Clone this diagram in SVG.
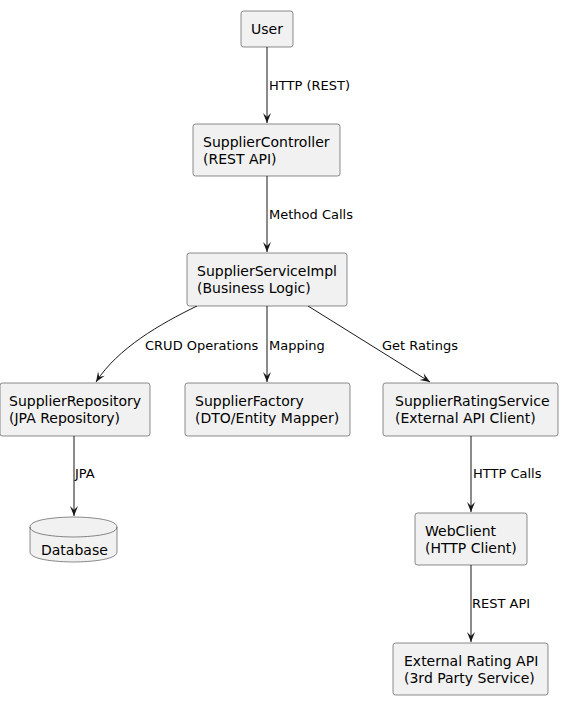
<svg xmlns="http://www.w3.org/2000/svg" width="576" height="709" viewBox="0 0 576 709">
<style>
.box{fill:#F1F1F1;stroke:#181818;stroke-width:0.5}
.t{font-family:"DejaVu Sans",sans-serif;font-size:14px;fill:#000}
.l{font-family:"DejaVu Sans",sans-serif;font-size:13px;fill:#000}
.e{fill:none;stroke:#181818;stroke-width:1}
</style>
<defs>
<marker id="ah" markerUnits="userSpaceOnUse" markerWidth="12" markerHeight="10" refX="10" refY="4" orient="auto" overflow="visible">
<path d="M0,0 L10,4 L0,8 L4,4 Z" fill="#181818"/>
</marker>
</defs>
<rect width="576" height="709" fill="#FFFFFF"/>
<g id="connectors">
<path class="e" d="M267,47 L267,123" marker-end="url(#ah)"/>
<text class="l" x="269" y="90">HTTP (REST)</text>
<path class="e" d="M267,176 L267,252" marker-end="url(#ah)"/>
<text class="l" x="269" y="219">Method Calls</text>
<path class="e" d="M197,306 C160,324 118,348 96,382" marker-end="url(#ah)"/>
<text class="l" x="145" y="350">CRUD Operations</text>
<path class="e" d="M267,306 L267,382" marker-end="url(#ah)"/>
<text class="l" x="269" y="350">Mapping</text>
<path class="e" d="M308,306 L430,382" marker-end="url(#ah)"/>
<text class="l" x="382" y="350">Get Ratings</text>
<path class="e" d="M74,436 L74,516" marker-end="url(#ah)"/>
<text class="l" x="75" y="478">JPA</text>
<path class="e" d="M471,436 L471,512" marker-end="url(#ah)"/>
<text class="l" x="473" y="478">HTTP Calls</text>
<path class="e" d="M471,565 L471,642" marker-end="url(#ah)"/>
<text class="l" x="472" y="608">REST API</text>
</g>
<g id="user">
<rect class="box" x="241" y="11" width="52" height="36" rx="2.5"/>
<text class="t" x="251" y="34">User</text>
</g>
<g id="controller">
<rect class="box" x="193" y="124" width="147" height="52" rx="2.5"/>
<text class="t" x="203" y="147">SupplierController</text>
<text class="t" x="203" y="163.5">(REST API)</text>
</g>
<g id="service">
<rect class="box" x="187" y="253" width="160" height="53" rx="2.5"/>
<text class="t" x="197" y="276">SupplierServiceImpl</text>
<text class="t" x="197" y="292.5">(Business Logic)</text>
</g>
<g id="repository">
<rect class="box" x="0" y="383" width="150" height="53" rx="2.5"/>
<text class="t" x="9" y="406">SupplierRepository</text>
<text class="t" x="9" y="422.5">(JPA Repository)</text>
</g>
<g id="factory">
<rect class="box" x="185" y="383" width="165" height="53" rx="2.5"/>
<text class="t" x="195" y="406">SupplierFactory</text>
<text class="t" x="195" y="422.5">(DTO/Entity Mapper)</text>
</g>
<g id="rating">
<rect class="box" x="383" y="383" width="175" height="53" rx="2.5"/>
<text class="t" x="395" y="406">SupplierRatingService</text>
<text class="t" x="395" y="422.5">(External API Client)</text>
</g>
<g id="database">
<path class="box" d="M30,527 C30,517 73.5,517 73.5,517 C73.5,517 117,517 117,527 L117,552 C117,562 73.5,562 73.5,562 C73.5,562 30,562 30,552 Z"/>
<path class="e" style="stroke-width:0.5" d="M30,527 C30,537 73.5,537 73.5,537 C73.5,537 117,537 117,527"/>
<text class="t" x="41" y="555">Database</text>
</g>
<g id="webclient">
<rect class="box" x="415" y="513" width="112" height="52" rx="2.5"/>
<text class="t" x="425" y="536">WebClient</text>
<text class="t" x="425" y="552.5">(HTTP Client)</text>
</g>
<g id="external">
<rect class="box" x="393" y="643" width="155" height="52" rx="2.5"/>
<text class="t" x="404" y="666">External Rating API</text>
<text class="t" x="404" y="682.5">(3rd Party Service)</text>
</g>
</svg>
